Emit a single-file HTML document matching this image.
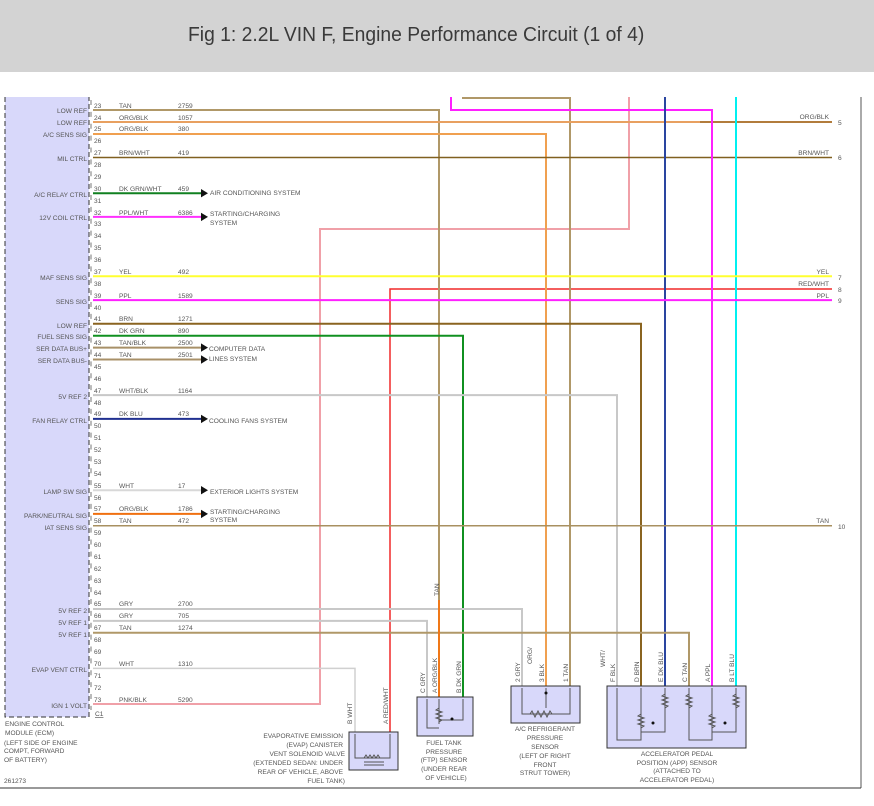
<!DOCTYPE html>
<html><head><meta charset="utf-8"><style>
html,body{margin:0;padding:0;background:#fff;}
body{width:874px;height:806px;overflow:hidden;position:relative;font-family:"Liberation Sans",sans-serif;}
.hdr{position:absolute;left:0;top:0;width:874px;height:72px;background:#d3d3d3;}
.hdr span{position:absolute;left:188px;top:24px;font-family:"Liberation Sans Narrow","Liberation Sans",sans-serif;font-size:20px;color:#3a3a3a;transform:scaleX(0.965);transform-origin:0 0;white-space:nowrap;}
svg{position:absolute;left:0;top:0;}
svg text{font-family:"Liberation Sans",sans-serif;font-size:6.6px;fill:#555;}
</style></head><body>
<div class="hdr"><span>Fig 1: 2.2L VIN F, Engine Performance Circuit (1 of 4)</span></div>
<svg width="874" height="806" viewBox="0 0 874 806">
<rect x="5" y="97" width="84" height="620" fill="#d8d8fa"/>
<path d="M5 97V717H89V97" fill="none" stroke="#333" stroke-width="1" stroke-dasharray="5 3"/>
<line x1="91" y1="100" x2="91" y2="710" stroke="#777" stroke-width="1" stroke-dasharray="5 6.88"/>
<line x1="861" y1="97" x2="861" y2="788" stroke="#555" stroke-width="1"/>
<line x1="0" y1="788" x2="861" y2="788" stroke="#333" stroke-width="1"/>

<g fill="none" stroke-width="2">
<path d="M93 704H320V229H629V97" stroke="#f0a0a8"/>
<path d="M390 732V289H832" stroke="#f02828" stroke-width="1.5"/>
<path d="M93 110H439V600" stroke="#b09868"/>
<path d="M463 97V98H570V686" stroke="#b09868"/>
<path d="M93 122H832" stroke="#e8a060"/>
<path d="M700 122H832" stroke="#a07030" stroke-width="1.5"/>
<path d="M93 134H546V686" stroke="#f0a050"/>
<path d="M93 157.5H832" stroke="#806020" stroke-width="1.5"/>
<path d="M451 97V110H712V686" stroke="#ff20ff"/>
<path d="M665 97V686" stroke="#2a45a0"/>
<path d="M736 97V686" stroke="#00f0f0"/>
<path d="M93 276.3H832" stroke="#ffff30"/>
<path d="M93 300.1H832" stroke="#ff20ff"/>
<path d="M93 323.8H641V686" stroke="#8a6420"/>
<path d="M93 335.7H463V697" stroke="#109020"/>
<path d="M93 395.1H617V686" stroke="#c8c8c8"/>
<path d="M93 525.8H832" stroke="#a89060" stroke-width="1.5"/>
<path d="M93 609H522V686" stroke="#c8c8c8"/>
<path d="M93 620.9H427V697" stroke="#c8c8c8"/>
<path d="M93 632.7H689V686" stroke="#b09868"/>
<path d="M93 668.4H355V732" stroke="#d0d0d0" stroke-width="1.5"/>
<path d="M439 600V697" stroke="#f07818"/>
<path d="M93 193.2H203" stroke="#108020"/>
<path d="M93 216.9H203" stroke="#ff30ff"/>
<path d="M93 347.6H203" stroke="#a89068"/>
<path d="M93 359.5H203" stroke="#a89068"/>
<path d="M93 418.9H203" stroke="#203090"/>
<path d="M93 490.2H203" stroke="#d8d8d8"/>
<path d="M93 513.9H203" stroke="#f07010"/>
</g>
<g fill="#111">
<polygon points="201,189 208,193.2 201,197.4"/>
<polygon points="201,212.7 208,216.9 201,221.1"/>
<polygon points="201,343.4 208,347.6 201,351.8"/>
<polygon points="201,355.3 208,359.5 201,363.7"/>
<polygon points="201,414.7 208,418.9 201,423.1"/>
<polygon points="201,486 208,490.2 201,494.4"/>
<polygon points="201,509.7 208,513.9 201,518.1"/>
</g>
<g>
<text x="210" y="195">AIR CONDITIONING SYSTEM</text>
<text x="210" y="216">STARTING/CHARGING</text><text x="210" y="225">SYSTEM</text>
<text x="209" y="351">COMPUTER DATA</text><text x="209" y="361">LINES SYSTEM</text>
<text x="209" y="423">COOLING FANS SYSTEM</text>
<text x="210" y="494">EXTERIOR LIGHTS SYSTEM</text>
<text x="210" y="514">STARTING/CHARGING</text><text x="210" y="522">SYSTEM</text>
</g>
<g text-anchor="end">
<text x="87" y="113">LOW REF</text>
<text x="87" y="125">LOW REF</text>
<text x="87" y="137">A/C SENS SIG</text>
<text x="87" y="161">MIL CTRL</text>
<text x="87" y="197">A/C RELAY CTRL</text>
<text x="87" y="220">12V COIL CTRL</text>
<text x="87" y="280">MAF SENS SIG</text>
<text x="87" y="304">SENS SIG</text>
<text x="87" y="328">LOW REF</text>
<text x="87" y="339">FUEL SENS SIG</text>
<text x="87" y="351">SER DATA BUS+</text>
<text x="87" y="363">SER DATA BUS-</text>
<text x="87" y="399">5V REF 2</text>
<text x="87" y="423">FAN RELAY CTRL</text>
<text x="87" y="494">LAMP SW SIG</text>
<text x="87" y="518">PARK/NEUTRAL SIG</text>
<text x="87" y="530">IAT SENS SIG</text>
<text x="87" y="613">5V REF 2</text>
<text x="87" y="625">5V REF 1</text>
<text x="87" y="637">5V REF 1</text>
<text x="87" y="672">EVAP VENT CTRL</text>
<text x="87" y="708">IGN 1 VOLT</text>
</g>
<g>
<text x="94" y="108">23</text><text x="94" y="120">24</text><text x="94" y="131">25</text><text x="94" y="143">26</text><text x="94" y="155">27</text><text x="94" y="167">28</text><text x="94" y="179">29</text><text x="94" y="191">30</text><text x="94" y="203">31</text><text x="94" y="215">32</text><text x="94" y="226">33</text><text x="94" y="238">34</text><text x="94" y="250">35</text><text x="94" y="262">36</text><text x="94" y="274">37</text><text x="94" y="286">38</text><text x="94" y="298">39</text><text x="94" y="310">40</text><text x="94" y="321">41</text><text x="94" y="333">42</text><text x="94" y="345">43</text><text x="94" y="357">44</text><text x="94" y="369">45</text><text x="94" y="381">46</text><text x="94" y="393">47</text><text x="94" y="405">48</text><text x="94" y="416">49</text><text x="94" y="428">50</text><text x="94" y="440">51</text><text x="94" y="452">52</text><text x="94" y="464">53</text><text x="94" y="476">54</text><text x="94" y="488">55</text><text x="94" y="500">56</text><text x="94" y="511">57</text><text x="94" y="523">58</text><text x="94" y="535">59</text><text x="94" y="547">60</text><text x="94" y="559">61</text><text x="94" y="571">62</text><text x="94" y="583">63</text><text x="94" y="595">64</text><text x="94" y="606">65</text><text x="94" y="618">66</text><text x="94" y="630">67</text><text x="94" y="642">68</text><text x="94" y="654">69</text><text x="94" y="666">70</text><text x="94" y="678">71</text><text x="94" y="690">72</text><text x="94" y="702">73</text>
<text x="95" y="716" text-decoration="underline">C1</text>
</g>
<g>
<text x="119" y="108">TAN</text><text x="178" y="108">2759</text>
<text x="119" y="120">ORG/BLK</text><text x="178" y="120">1057</text>
<text x="119" y="131">ORG/BLK</text><text x="178" y="131">380</text>
<text x="119" y="155">BRN/WHT</text><text x="178" y="155">419</text>
<text x="119" y="191">DK GRN/WHT</text><text x="178" y="191">459</text>
<text x="119" y="215">PPL/WHT</text><text x="178" y="215">6386</text>
<text x="119" y="274">YEL</text><text x="178" y="274">492</text>
<text x="119" y="298">PPL</text><text x="178" y="298">1589</text>
<text x="119" y="321">BRN</text><text x="178" y="321">1271</text>
<text x="119" y="333">DK GRN</text><text x="178" y="333">890</text>
<text x="119" y="345">TAN/BLK</text><text x="178" y="345">2500</text>
<text x="119" y="357">TAN</text><text x="178" y="357">2501</text>
<text x="119" y="393">WHT/BLK</text><text x="178" y="393">1164</text>
<text x="119" y="416">DK BLU</text><text x="178" y="416">473</text>
<text x="119" y="488">WHT</text><text x="178" y="488">17</text>
<text x="119" y="511">ORG/BLK</text><text x="178" y="511">1786</text>
<text x="119" y="523">TAN</text><text x="178" y="523">472</text>
<text x="119" y="606">GRY</text><text x="178" y="606">2700</text>
<text x="119" y="618">GRY</text><text x="178" y="618">705</text>
<text x="119" y="630">TAN</text><text x="178" y="630">1274</text>
<text x="119" y="666">WHT</text><text x="178" y="666">1310</text>
<text x="119" y="702">PNK/BLK</text><text x="178" y="702">5290</text>
</g>
<g text-anchor="end">
<text x="829" y="119">ORG/BLK</text><text x="829" y="155">BRN/WHT</text>
<text x="829" y="274">YEL</text><text x="829" y="286">RED/WHT</text><text x="829" y="298">PPL</text>
<text x="829" y="523">TAN</text>
</g>
<g>
<text x="838" y="125">5</text><text x="838" y="160">6</text><text x="838" y="280">7</text><text x="838" y="292">8</text><text x="838" y="303">9</text><text x="838" y="529">10</text>
</g>
<g>
<text x="5" y="726">ENGINE CONTROL</text><text x="5" y="735">MODULE (ECM)</text>
<text x="4" y="745">(LEFT SIDE OF ENGINE</text><text x="4" y="753">COMPT, FORWARD</text><text x="4" y="762">OF BATTERY)</text>
<text x="4" y="783">261273</text>
</g>
<g>
<text transform="translate(352,724) rotate(-90)">B  WHT</text>
<text transform="translate(388,724) rotate(-90)">A  RED/WHT</text>
<text transform="translate(439,596) rotate(-90)">TAN</text>
<text transform="translate(425,693) rotate(-90)">C  GRY</text>
<text transform="translate(437,693) rotate(-90)">A  ORG/BLK</text>
<text transform="translate(461,693) rotate(-90)">B  DK GRN</text>
<text transform="translate(520,682) rotate(-90)">2  GRY</text>
<text transform="translate(544,682) rotate(-90)">3  BLK</text><text x="532" y="664" transform="rotate(-90 532 664)">ORG/</text>
<text transform="translate(568,682) rotate(-90)">1  TAN</text>
<text transform="translate(615,682) rotate(-90)">F  BLK</text><text transform="translate(605,667) rotate(-90)">WHT/</text>
<text transform="translate(639,682) rotate(-90)">D  BRN</text>
<text transform="translate(663,682) rotate(-90)">E  DK BLU</text>
<text transform="translate(687,682) rotate(-90)">C  TAN</text>
<text transform="translate(710,682) rotate(-90)">A  PPL</text>
<text transform="translate(734,682) rotate(-90)">B  LT BLU</text>
</g>
<g stroke="#333" stroke-width="1" fill="#d8d8fa">
<rect x="349" y="732" width="49" height="38"/>
<rect x="417" y="697" width="56" height="39"/>
<rect x="511" y="686" width="69" height="37"/>
<rect x="607" y="686" width="139" height="62"/>
</g>
<g fill="none" stroke="#555" stroke-width="1">
<path d="M355 734V758H390V734"/><path d="M364 758l2-3 2 3 2-3 2 3 2-3 2 3 2-3 2 3"/>
<path d="M364 762H384M364 765H384"/>
<path d="M427 699V728H439M439 699V724M463 699V720H439"/>
<path d="M439 708l-3 2 6 2-6 2 6 2-6 2 6 2-3 2"/>
<path d="M522 688V714H570V688M546 688V708"/>
<path d="M530 714l2-3 3 6 3-6 3 6 3-6 3 6 3-6 2 3"/>
<path d="M617 688V740H641V688M641 714l-3 2 6 2-6 2 6 2-6 2 6 2-3 2M665 688V732H641"/>
<path d="M665 694l-3 2 6 2-6 2 6 2-6 2 6 2-3 2"/>
<path d="M689 688V740H712V688M712 714l-3 2 6 2-6 2 6 2-6 2 6 2-3 2M736 688V732H712"/>
<path d="M689 694l-3 2 6 2-6 2 6 2-6 2 6 2-3 2M736 694l-3 2 6 2-6 2 6 2-6 2 6 2-3 2"/>
</g>
<g fill="#111"><circle cx="452" cy="719" r="1.5"/><circle cx="546" cy="693" r="1.5"/><circle cx="653" cy="723" r="1.5"/><circle cx="725" cy="723" r="1.5"/></g>
<g text-anchor="end">
<text x="343" y="738">EVAPORATIVE EMISSION</text><text x="343" y="747">(EVAP) CANISTER</text>
<text x="345" y="756">VENT SOLENOID VALVE</text><text x="343" y="765">(EXTENDED SEDAN: UNDER</text>
<text x="343" y="774">REAR OF VEHICLE, ABOVE</text><text x="345" y="783">FUEL TANK)</text>
</g>
<g text-anchor="middle">
<text x="444" y="745">FUEL TANK</text><text x="444" y="754">PRESSURE</text><text x="444" y="762">(FTP) SENSOR</text><text x="444" y="771">(UNDER REAR</text><text x="446" y="780">OF VEHICLE)</text>
<text x="545" y="731">A/C REFRIGERANT</text><text x="545" y="740">PRESSURE</text><text x="545" y="749">SENSOR</text><text x="545" y="758">(LEFT OF RIGHT</text><text x="545" y="767">FRONT</text><text x="545" y="775">STRUT TOWER)</text>
<text x="677" y="756">ACCELERATOR PEDAL</text><text x="677" y="765">POSITION (APP) SENSOR</text><text x="677" y="773">(ATTACHED TO</text><text x="677" y="782">ACCELERATOR PEDAL)</text>
</g>
</svg>
</body></html>
